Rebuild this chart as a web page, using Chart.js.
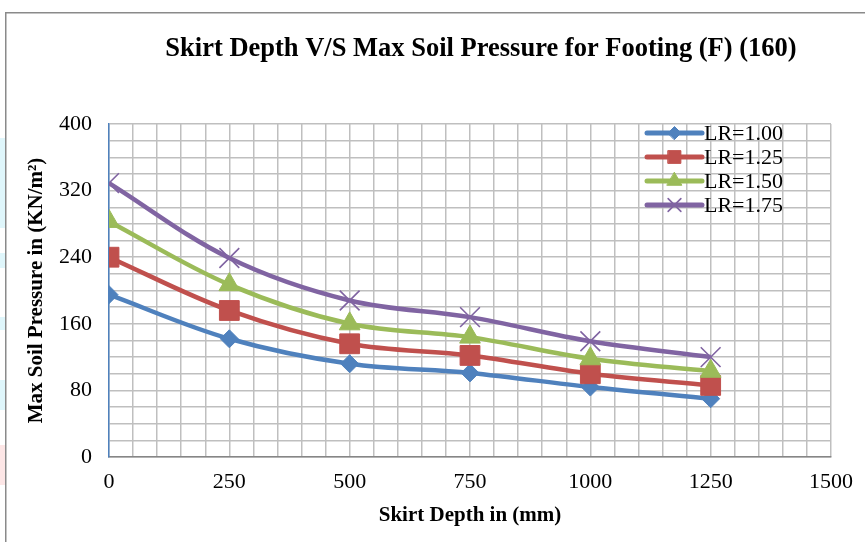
<!DOCTYPE html>
<html>
<head>
<meta charset="utf-8">
<script src="https://cdn.jsdelivr.net/npm/chart.js@4/dist/chart.umd.min.js"></script>
<style>
  html, body { margin: 0; padding: 0; background: #ffffff; }
  #wrap { position: relative; width: 865px; height: 542px; overflow: hidden; }
  .patch { position: absolute; left: 0; width: 6px; }
  canvas { position: absolute; left: 0; top: 0; }
</style>
</head>
<body>
<div id="wrap">
  <div class="patch" style="top:138px;height:90px;background:#dff6fb"></div>
  <div class="patch" style="top:253px;height:15px;background:#dff6fb"></div>
  <div class="patch" style="top:317px;height:13px;background:#dff6fb"></div>
  <div class="patch" style="top:380px;height:30px;background:#dff6fb"></div>
  <div class="patch" style="top:445px;height:40px;background:#fde6e6"></div>
  <canvas id="c" width="865" height="542"></canvas>
</div>
<script>
// ---- data ----
const skirtDepth = [0, 250, 500, 750, 1000, 1250];
const lr100 = [195, 142, 112, 101, 84, 70];
const lr125 = [240, 176, 136, 122, 100, 86];
const lr150 = [283, 207, 160, 144, 118, 103];
const lr175 = [329, 239, 188, 168, 139, 120];
const seriesNames = ['LR=1.00', 'LR=1.25', 'LR=1.50', 'LR=1.75'];
const xTickLabels = [0, 250, 500, 750, 1000, 1250, 1500];
const yTickLabels = [0, 80, 160, 240, 320, 400];
const titleText = 'Skirt Depth V/S Max Soil Pressure for Footing (F) (160)';
const xTitle = 'Skirt Depth in (mm)';
const yTitle = 'Max Soil Pressure in (KN/m\u00B2)';

const colors = ['#4F81BD', '#C0504D', '#9BBB59', '#8064A2'];
const styles = ['rectRot', 'rect', 'triangle', 'crossRot'];
const radii = [9, 14, 12, 14];
const legendRadii = [6.5, 9, 8.5, 9];
const allValues = [lr100, lr125, lr150, lr175];

const FONT = "'Liberation Serif', 'Times New Roman', serif";

const datasets = allValues.map((vals, i) => ({
  label: seriesNames[i],
  data: skirtDepth.map((x, j) => ({ x: x, y: vals[j] })),
  borderColor: colors[i],
  backgroundColor: colors[i],
  borderWidth: 4.5,
  tension: 0.35,
  pointStyle: styles[i],
  pointRadius: radii[i],
  pointHoverRadius: radii[i],
  pointBorderWidth: styles[i] === 'crossRot' ? 1.6 : 1,
  pointBackgroundColor: colors[i],
  pointBorderColor: colors[i],
  order: 3 - i
}));

const framePlugin = {
  id: 'frame',
  beforeDraw(chart) {
    const ctx = chart.ctx;
    ctx.save();
    ctx.strokeStyle = '#8a8a8a';
    ctx.lineWidth = 1.5;
    ctx.strokeRect(5.75, 12.75, 900, 600);
    ctx.restore();
  },
  afterDraw(chart) {
    const ctx = chart.ctx;
    ctx.save();
    // title
    ctx.fillStyle = '#000';
    ctx.font = "bold 26.5px " + FONT;
    ctx.textAlign = 'center';
    ctx.textBaseline = 'middle';
    ctx.fillText(titleText, 481, 49);
    // legend
    const rowY = [133, 157, 181, 205];
    for (let i = 0; i < 4; i++) {
      const y = rowY[i];
      ctx.strokeStyle = colors[i];
      ctx.lineWidth = 5;
      ctx.lineCap = 'round';
      ctx.beginPath();
      ctx.moveTo(647, y);
      ctx.lineTo(702, y);
      ctx.stroke();
      ctx.fillStyle = colors[i];
      ctx.lineWidth = styles[i] === 'crossRot' ? 1.6 : 1;
      Chart.helpers.drawPoint(ctx, { pointStyle: styles[i], radius: legendRadii[i], borderWidth: ctx.lineWidth, rotation: 0 }, 674.5, y);
      ctx.fillStyle = '#000';
      ctx.font = "22px " + FONT;
      ctx.textAlign = 'left';
      ctx.textBaseline = 'middle';
      ctx.fillText(seriesNames[i], 704, y + 1);
    }
    ctx.restore();
  }
};

new Chart(document.getElementById('c'), {
  type: 'line',
  data: { datasets: datasets },
  plugins: [framePlugin],
  options: {
    responsive: false,
    animation: false,
    events: [],
    layout: { padding: { left: 5, top: 124, right: 33, bottom: 0 } },
    plugins: {
      legend: { display: false },
      title: { display: false },
      tooltip: { enabled: false }
    },
    scales: {
      x: {
        type: 'linear',
        min: 0,
        max: 1500,
        afterFit(scale) { scale.height = 85; },
        ticks: {
          stepSize: 50,
          autoSkip: false,
          maxRotation: 0,
          padding: 12,
          color: '#000',
          font: { family: FONT, size: 22 },
          callback: (v) => xTickLabels.includes(v) ? String(v) : ''
        },
        grid: { color: '#bfbfbf', lineWidth: 1.5, drawTicks: false },
        border: { color: '#868686', width: 1.5 },
        title: {
          display: true,
          text: xTitle,
          color: '#000',
          font: { family: FONT, size: 21, weight: 'bold' },
          padding: { top: 0, bottom: 14 }
        }
      },
      y: {
        min: 0,
        max: 400,
        afterFit(scale) { scale.width = 104; },
        ticks: {
          stepSize: 20,
          autoSkip: false,
          padding: 17,
          color: '#000',
          font: { family: FONT, size: 22 },
          callback: (v) => yTickLabels.includes(v) ? String(v) : ''
        },
        grid: { color: '#bfbfbf', lineWidth: 1.5, drawTicks: false },
        border: { color: '#4F81BD', width: 1.5 },
        title: {
          display: true,
          text: yTitle,
          color: '#000',
          font: { family: FONT, size: 21, weight: 'bold' },
          padding: { top: 19, bottom: 0 }
        }
      }
    }
  }
});
</script>
</body>
</html>
